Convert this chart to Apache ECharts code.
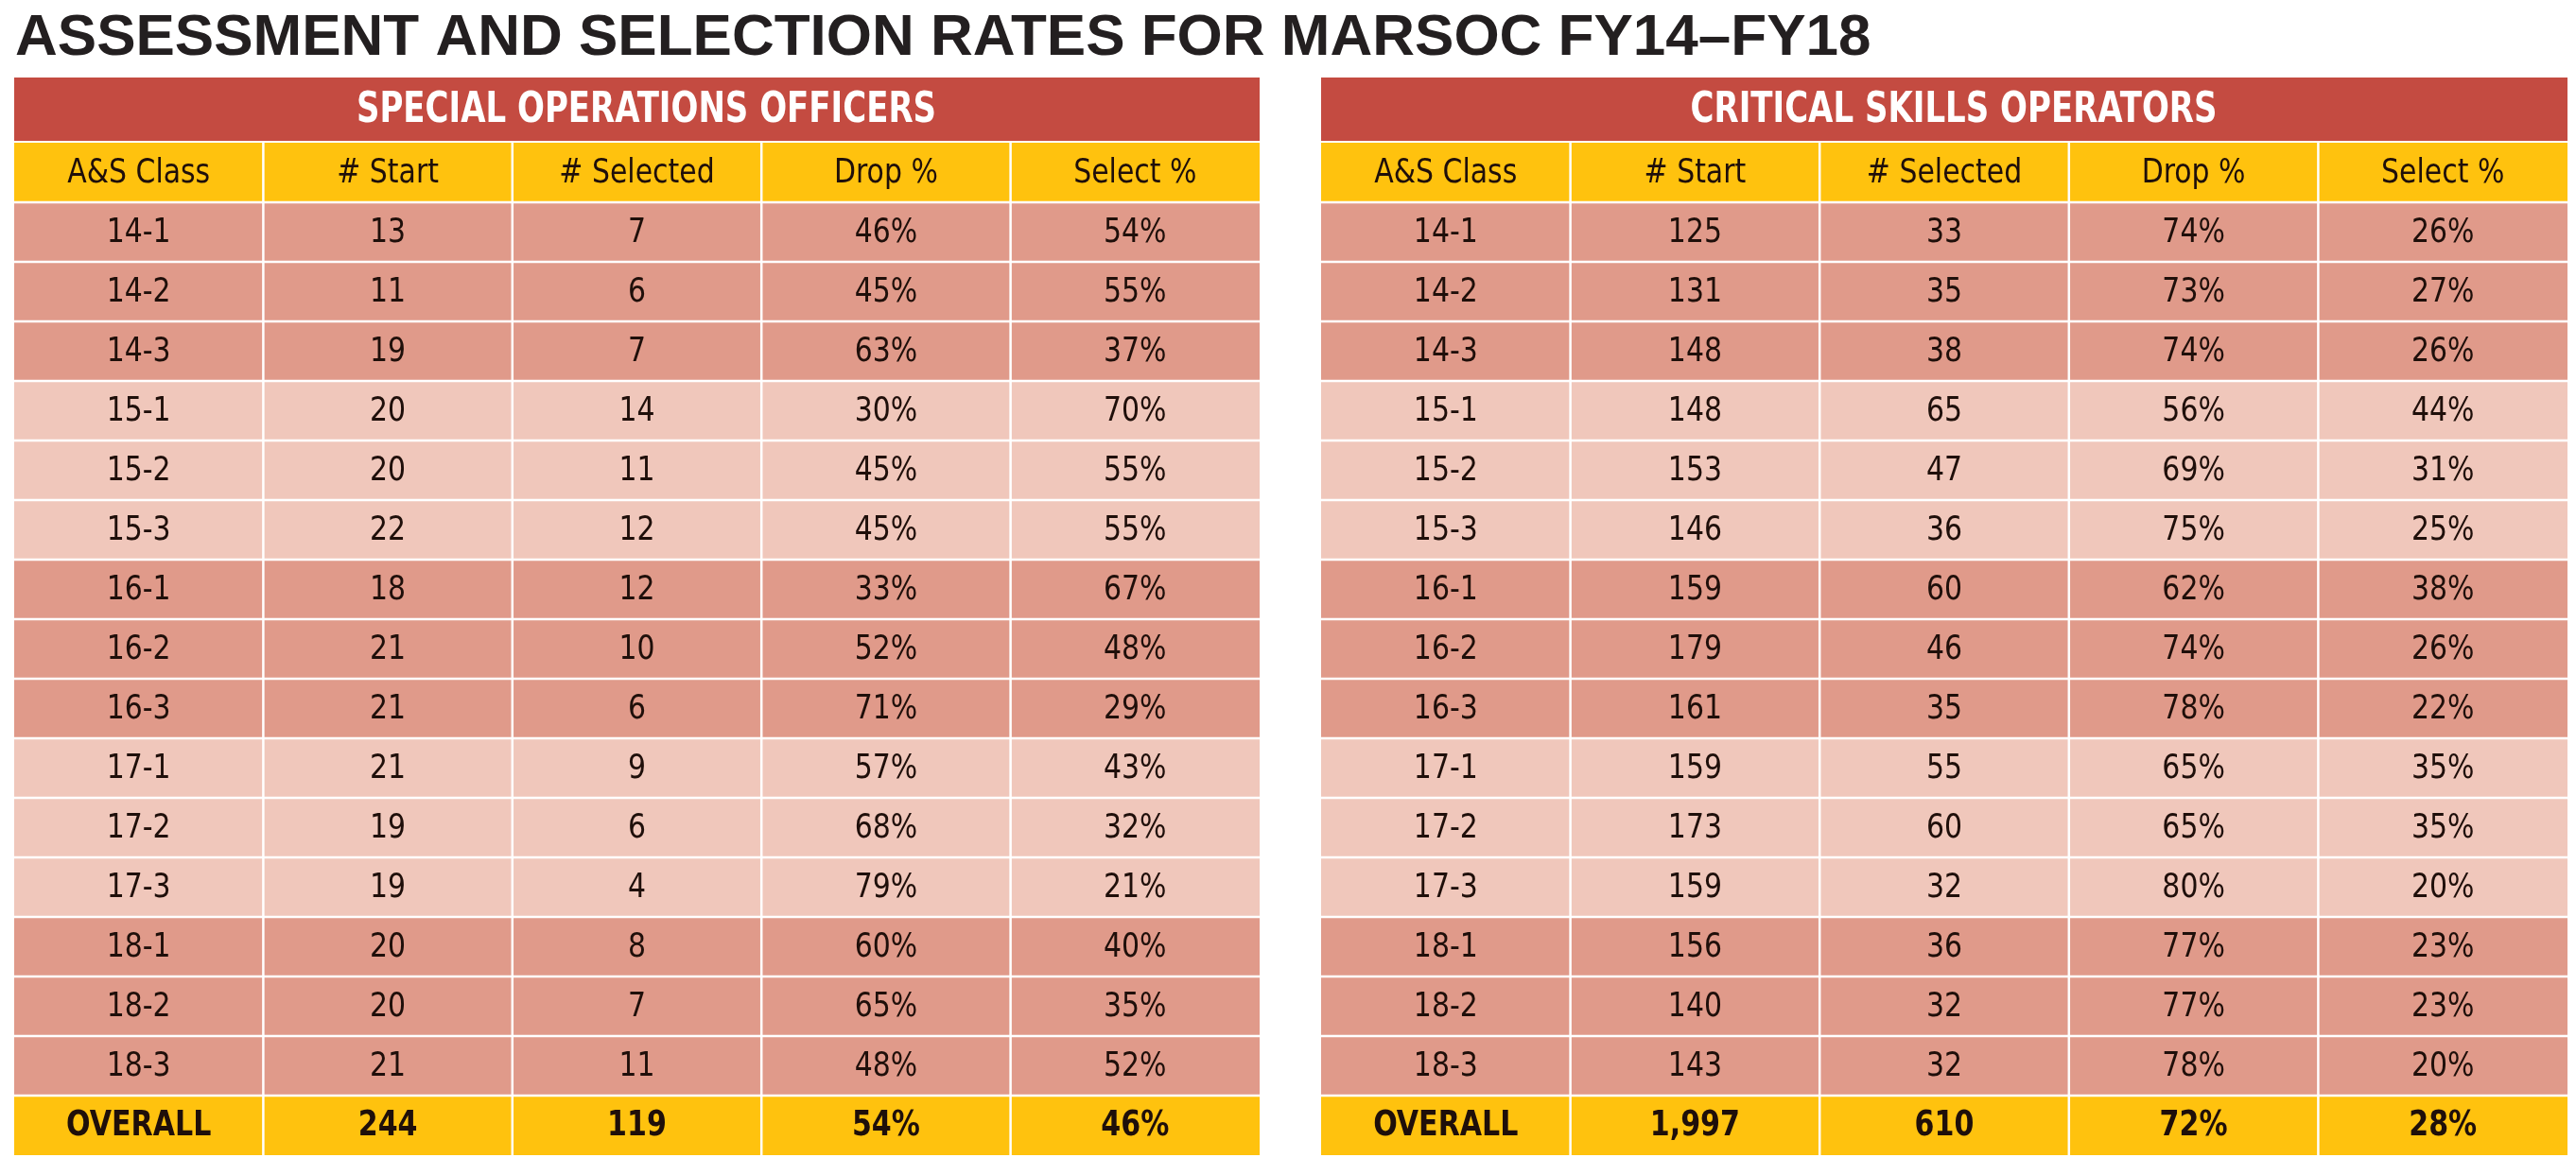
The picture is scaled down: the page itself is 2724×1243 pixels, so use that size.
<!DOCTYPE html>
<html>
<head>
<meta charset="utf-8">
<title>MARSOC A&amp;S rates</title>
<script src="https://cdn.jsdelivr.net/npm/echarts@6/dist/echarts.min.js"></script>
<style>
  html, body { margin: 0; padding: 0; background: #fff; }
  #chart { width: 2724px; height: 1243px; }
</style>
</head>
<body>
<div id="chart"></div>
<script>
// data
var classes = ['14-1', '14-2', '14-3', '15-1', '15-2', '15-3', '16-1', '16-2', '16-3',
               '17-1', '17-2', '17-3', '18-1', '18-2', '18-3'];
var columns = ['A&S Class', '# Start', '# Selected', 'Drop %', 'Select %'];

var soStart    = [13, 11, 19, 20, 20, 22, 18, 21, 21, 21, 19, 19, 20, 20, 21];
var soSelected = [7, 6, 7, 14, 11, 12, 12, 10, 6, 9, 6, 4, 8, 7, 11];
var soDrop     = [46, 45, 63, 30, 45, 45, 33, 52, 71, 57, 68, 79, 60, 65, 48];
var soSelect   = [54, 55, 37, 70, 55, 55, 67, 48, 29, 43, 32, 21, 40, 35, 52];
var soOverall  = ['244', '119', 54, 46];

var csStart    = [125, 131, 148, 148, 153, 146, 159, 179, 161, 159, 173, 159, 156, 140, 143];
var csSelected = [33, 35, 38, 65, 47, 36, 60, 46, 35, 55, 60, 32, 36, 32, 32];
var csDrop     = [74, 73, 74, 56, 69, 75, 62, 74, 78, 65, 65, 80, 77, 77, 78];
var csSelect   = [26, 27, 26, 44, 31, 25, 38, 26, 22, 35, 35, 20, 23, 23, 20];
var csOverall  = ['1,997', '610', 72, 28];

var RED = '#C44B41';
var YELLOW = '#FFC20E';
var DARK = '#E09A8A';
var LIGHT = '#F0C7BB';
var INK = '#1F0F0A';
var NARROW = "'Liberation Sans Narrow', 'DejaVu Sans Condensed', 'Roboto Condensed', sans-serif";

// rows: 0 = column header, 1..15 = classes, 16 = overall
var rowNames = ['head'].concat(classes).concat(['OVERALL']);
var nRows = rowNames.length;

var buildCells = function(start, selected, drop, select, overall) {
    var cells = [];
    for (var c = 0; c < columns.length; c++) {
        cells.push({col: c, row: 0, text: columns[c], fill: YELLOW, bold: false});
    }
    for (var i = 0; i < classes.length; i++) {
        var yr = parseInt(classes[i].split('-')[0], 10);
        var fill = (yr % 2 === 0) ? DARK : LIGHT;
        var vals = [classes[i], String(start[i]), String(selected[i]), drop[i] + '%', select[i] + '%'];
        for (var k = 0; k < vals.length; k++) {
            cells.push({col: k, row: i + 1, text: vals[k], fill: fill, bold: false});
        }
    }
    var last = ['OVERALL', overall[0], overall[1], overall[2] + '%', overall[3] + '%'];
    for (var j = 0; j < last.length; j++) {
        cells.push({col: j, row: nRows - 1, text: last[j], fill: YELLOW, bold: true});
    }
    return cells;
};

var tables = [
    {name: 'SPECIAL OPERATIONS OFFICERS', cells: buildCells(soStart, soSelected, soDrop, soSelect, soOverall)},
    {name: 'CRITICAL SKILLS OPERATORS', cells: buildCells(csStart, csSelected, csDrop, csSelect, csOverall)}
];

var makeCellRenderer = function(cells) {
    return function(params, api) {
        var cell = cells[params.dataIndex];
        var p = api.coord([api.value(0), api.value(1)]);
        var s = api.size([1, 1]);
        var g = 1.25;
        var x0 = p[0] - s[0] / 2 + (cell.col > 0 ? g : 0);
        var x1 = p[0] + s[0] / 2 - (cell.col < columns.length - 1 ? g : 0);
        var y0 = p[1] - s[1] / 2 + (cell.row > 0 ? g : 0);
        var y1 = p[1] + s[1] / 2 - (cell.row < nRows - 1 ? g : 0);
        return {
            type: 'group',
            children: [{
                type: 'rect',
                shape: {x: x0, y: y0, width: x1 - x0, height: y1 - y0},
                style: {fill: cell.fill}
            }, {
                type: 'text',
                x: p[0],
                y: p[1] + 1,
                scaleX: cell.bold ? 0.88 : 0.95,
                style: {
                    text: cell.text,
                    fill: INK,
                    font: (cell.bold ? 'bold 38px ' : '35px ') + NARROW,
                    align: 'center',
                    verticalAlign: 'middle'
                }
            }]
        };
    };
};

var makeBannerRenderer = function(name) {
    return function(params, api) {
        var cs = params.coordSys;
        var p = api.coord([api.value(0), api.value(1)]);
        var s = api.size([1, 1]);
        var top = p[1] - s[1] / 2;
        return {
            type: 'group',
            children: [{
                type: 'rect',
                shape: {x: cs.x, y: top - 69, width: cs.width, height: 67},
                style: {fill: RED}
            }, {
                type: 'text',
                x: cs.x + cs.width / 2 + 10,
                y: top - 34,
                scaleX: 0.84,
                style: {
                    text: name,
                    fill: '#fff',
                    font: 'bold 45px ' + NARROW,
                    align: 'center',
                    verticalAlign: 'middle'
                }
            }]
        };
    };
};

var grids = [
    {left: 15, top: 151, width: 1317, height: 1071},
    {left: 1397, top: 151, width: 1318, height: 1071}
];
var xAxes = [], yAxes = [], series = [];
for (var t = 0; t < tables.length; t++) {
    xAxes.push({type: 'category', gridIndex: t, data: columns, show: false});
    yAxes.push({type: 'category', gridIndex: t, data: rowNames, inverse: true, show: false});
    series.push({
        type: 'custom',
        xAxisIndex: t,
        yAxisIndex: t,
        renderItem: makeBannerRenderer(tables[t].name),
        data: [[2, 0]],
        silent: true
    });
    series.push({
        type: 'custom',
        xAxisIndex: t,
        yAxisIndex: t,
        renderItem: makeCellRenderer(tables[t].cells),
        data: tables[t].cells.map(function(c) { return [c.col, c.row]; }),
        silent: true
    });
}

var myChart = echarts.init(document.getElementById('chart'));
var option = {
    backgroundColor: '#fff',
    animation: false,
    title: {
        text: 'ASSESSMENT AND SELECTION RATES FOR MARSOC FY14\u2013FY18',
        left: 11,
        top: 5,
        textStyle: {
            color: '#231F20',
            fontFamily: "'Liberation Sans', Arial, sans-serif",
            fontWeight: 'bold',
            fontSize: 62
        }
    },
    grid: grids,
    xAxis: xAxes,
    yAxis: yAxes,
    series: series
};
myChart.setOption(option);
window.onresize = function() {
    myChart.resize();
};
</script>
</body>
</html>
